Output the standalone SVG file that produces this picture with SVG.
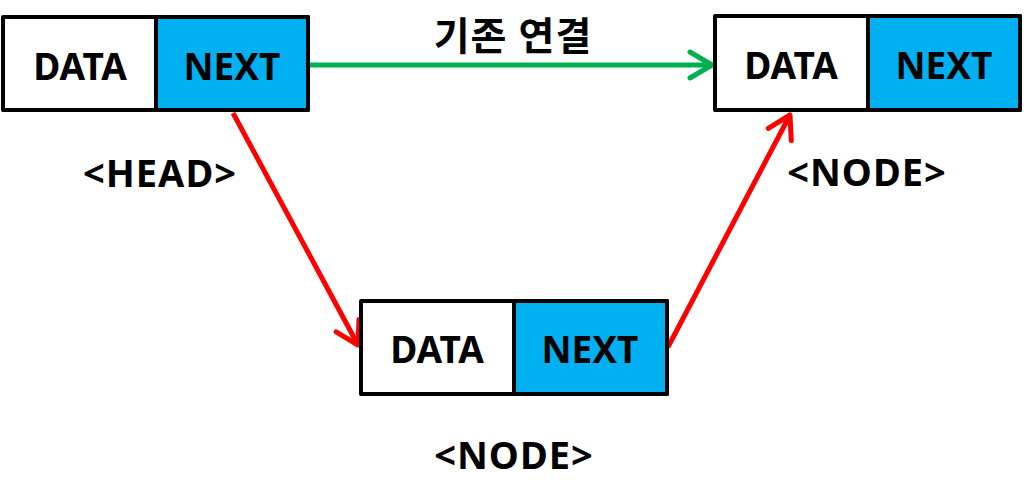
<svg xmlns="http://www.w3.org/2000/svg" width="1024" height="500" viewBox="0 0 1024 500">
<style>
.box{fill:#fff;stroke:#000;stroke-width:4;stroke-linejoin:round}
.nxt{fill:#00B0F0}
.t{font-family:"Noto Sans","Noto Sans CJK KR",sans-serif;font-weight:bold;font-size:37px;text-anchor:middle;fill:#000}
.lbl{font-family:"Noto Sans","Noto Sans CJK KR",sans-serif;font-weight:bold;font-size:38px;letter-spacing:1px;text-anchor:middle;fill:#000}
.g{stroke:#00B050;stroke-width:5;fill:none}
.r{stroke:#FF0000;stroke-width:5;fill:none}
</style>
<defs>
<marker id="ag" markerUnits="userSpaceOnUse" markerWidth="40" markerHeight="40" refX="26" refY="20" orient="auto" viewBox="0 0 40 40">
<path d="M4 7 L26 20 L4 33" fill="none" stroke="#00B050" stroke-width="5" stroke-linecap="round" stroke-linejoin="round"/>
</marker>
<marker id="ar" markerUnits="userSpaceOnUse" markerWidth="40" markerHeight="40" refX="26" refY="20" orient="auto" viewBox="0 0 40 40">
<path d="M4 7 L26 20 L4 33" fill="none" stroke="#FF0000" stroke-width="5" stroke-linecap="round" stroke-linejoin="round"/>
</marker>
</defs>
<g id="connectors">
<line class="g" x1="310" y1="65" x2="712" y2="65" marker-end="url(#ag)"/>
<line class="r" x1="233" y1="113" x2="358" y2="345" marker-end="url(#ar)"/>
<line class="r" x1="668" y1="347" x2="790" y2="115" marker-end="url(#ar)"/>
<text class="lbl" x="513" y="50" style="font-size:39px;letter-spacing:1px">기존 연결</text>
</g>
<g id="head">
<rect class="box" x="3" y="17" width="305" height="93"/>
<rect class="box nxt" x="156" y="17" width="152" height="93"/>
<text class="t" x="80" y="80">DATA</text>
<text class="t" x="232" y="80">NEXT</text>
<text class="lbl" x="160" y="187">&lt;HEAD&gt;</text>
</g>
<g id="node-right">
<rect class="box" x="715" y="16" width="305" height="94"/>
<rect class="box nxt" x="868" y="16" width="152" height="94"/>
<text class="t" x="791" y="79">DATA</text>
<text class="t" x="944" y="79">NEXT</text>
<text class="lbl" x="867" y="186">&lt;NODE&gt;</text>
</g>
<g id="node-bottom">
<rect class="box" x="361" y="301" width="306" height="93"/>
<rect class="box nxt" x="514" y="301" width="153" height="93"/>
<text class="t" x="437" y="363">DATA</text>
<text class="t" x="590" y="363">NEXT</text>
<text class="lbl" x="514" y="469">&lt;NODE&gt;</text>
</g>
</svg>
